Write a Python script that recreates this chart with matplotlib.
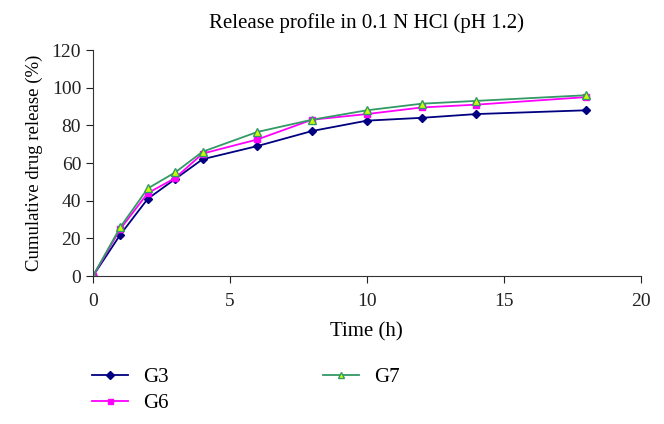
import matplotlib
matplotlib.use('Agg')
import matplotlib.pyplot as plt

plt.rcParams['font.family'] = ['Liberation Serif', 'DejaVu Serif']

time = [0, 1, 2, 3, 4, 6, 8, 10, 12, 14, 18]
g3 = [0, 22, 41, 51.5, 62, 69, 77, 82.5, 84, 86, 88]
g6 = [0, 25, 44, 52, 65, 72.5, 83, 86, 89.5, 91, 95]
g7 = [0, 26, 46.5, 55, 66, 76.5, 83, 88, 91.5, 93, 96]

fig = plt.figure(figsize=(6.64, 4.24), dpi=100)
ax = fig.add_axes([0.140, 0.349, 0.825, 0.533])

ax.plot(time, g3, color='#000080', marker='D', markersize=4.5, lw=1.3, label='G3')
ax.plot(time, g6, color='#ff00ff', marker='s', markersize=4.5, lw=1.3, label='G6')
ax.plot(time, g7, color='#339966', marker='^', markersize=6, lw=1.3,
        markerfacecolor='#ccff00', markeredgecolor='#339966', label='G7')

ax.set_xlim(0, 20)
ax.set_ylim(0, 120)
ax.set_xticks([0, 5, 10, 15, 20])
ax.set_yticks(range(0, 121, 20))
ax.spines['top'].set_visible(False)
ax.spines['right'].set_visible(False)
ax.spines['left'].set_color('#333333')
ax.spines['bottom'].set_color('#333333')
ax.tick_params(labelsize=14, direction='out', length=5, colors='#222222')
ax.tick_params(axis='x', pad=7)

ax.set_title('Release profile in 0.1 N HCl (pH 1.2)', fontsize=15, pad=16)
ax.set_xlabel('Time (h)', fontsize=15, labelpad=9)
ax.set_ylabel('Cumulative drug release (%)', fontsize=13.5, labelpad=6)

fig.legend(*ax.get_legend_handles_labels(), loc='center left',
           bbox_to_anchor=(92 / 664, 0.079), ncol=2, frameon=False,
           fontsize=15, columnspacing=7.4, handlelength=1.75, handletextpad=0.7,
           labelspacing=0.3, borderpad=0, borderaxespad=0, markerscale=0.8)

fig.savefig('out.png', dpi=100)
